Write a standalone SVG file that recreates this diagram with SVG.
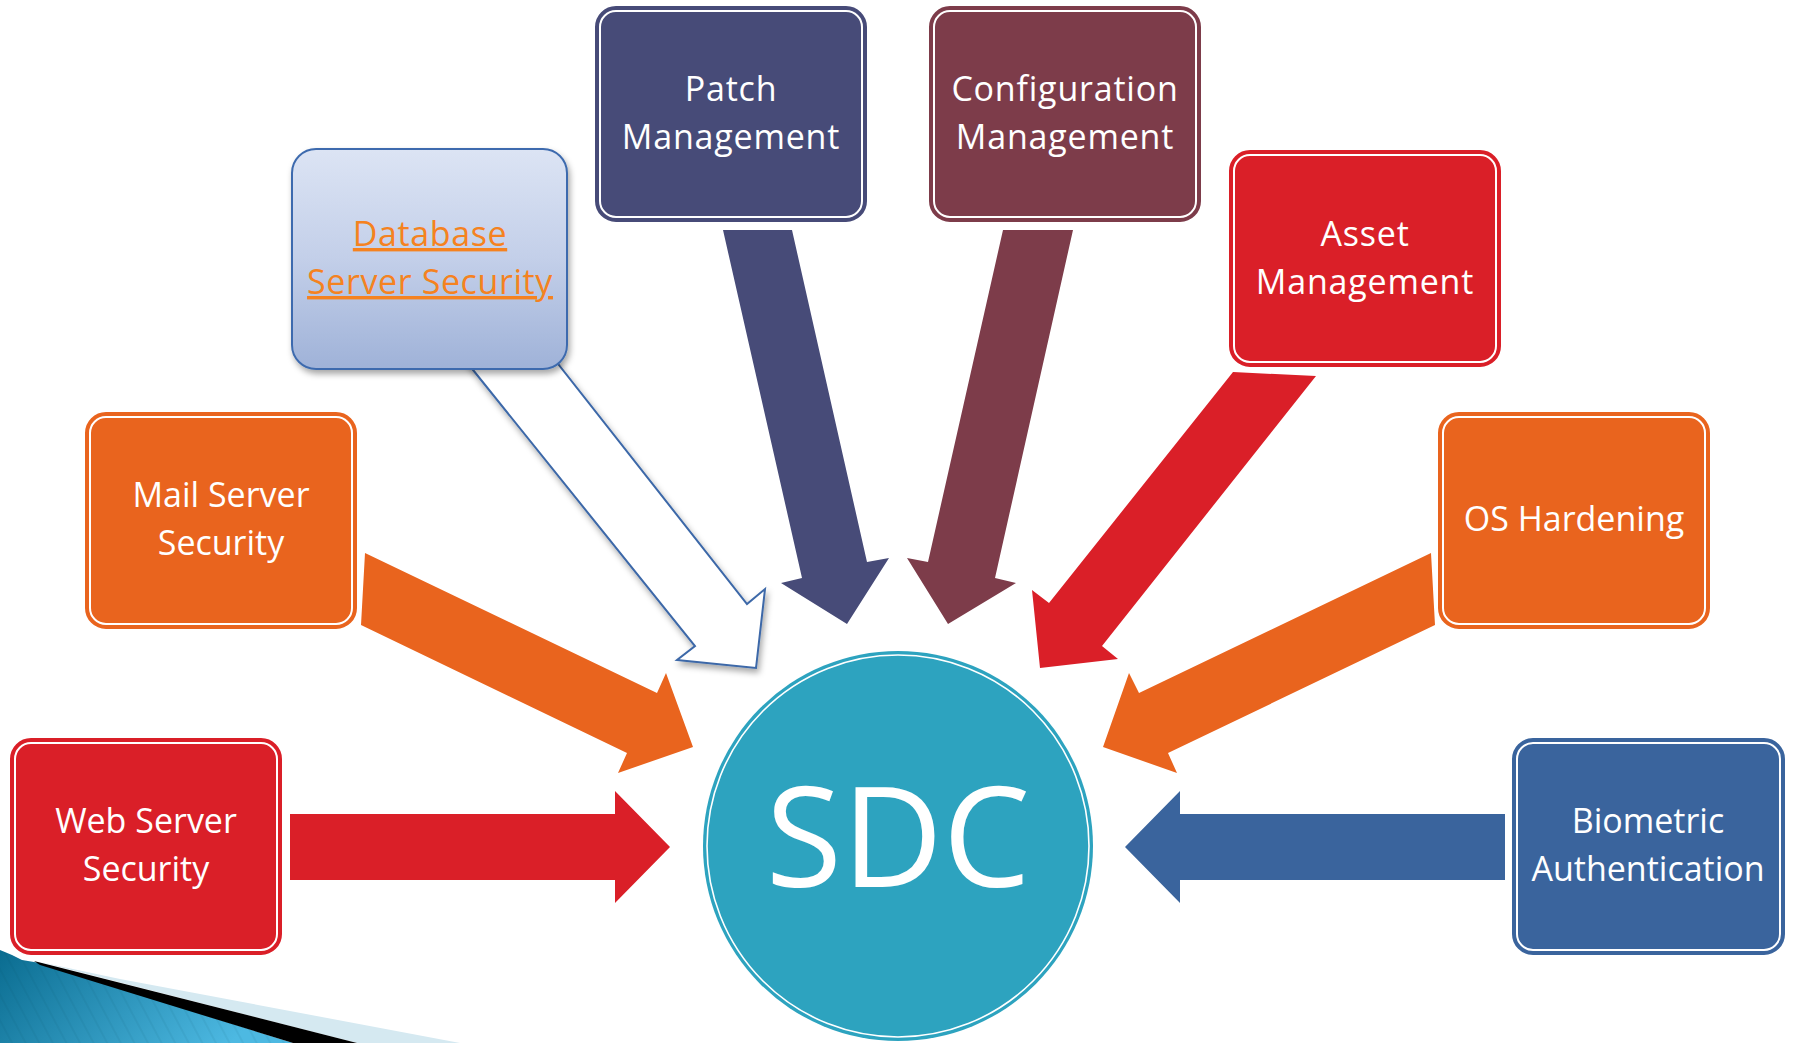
<svg xmlns="http://www.w3.org/2000/svg" width="1793" height="1043" viewBox="0 0 1793 1043">
<style>
.lbl{font-family:"Open Sans","Noto Sans","Liberation Sans",sans-serif;font-size:34px;fill:#ffffff;text-anchor:middle}
.sp{letter-spacing:0.8px}
.ring{fill:none;stroke:#ffffff;stroke-width:2}
</style>
<defs>
<linearGradient id="dbg" x1="0" y1="0" x2="0" y2="1">
<stop offset="0" stop-color="#DCE4F4"/>
<stop offset="0.5" stop-color="#C3CFE9"/>
<stop offset="1" stop-color="#9FB2D8"/>
</linearGradient>
<linearGradient id="blu" x1="0" y1="0" x2="1" y2="0.3">
<stop offset="0" stop-color="#0A6C90"/>
<stop offset="1" stop-color="#4DB9E2"/>
</linearGradient>
<pattern id="str" width="12" height="12" patternUnits="userSpaceOnUse" patternTransform="rotate(-28)">
<line x1="1" y1="0" x2="1" y2="12" stroke="#003A55" stroke-opacity="0.12" stroke-width="1"/>
</pattern>
<filter id="sh" x="-10%" y="-10%" width="130%" height="130%">
<feDropShadow dx="2" dy="4" stdDeviation="3" flood-color="#000" flood-opacity="0.35"/>
</filter>
</defs>
<rect width="1793" height="1043" fill="#ffffff"/>

<g id="decoration">
<polygon points="40,962 120,979 460,1043 357,1043" fill="#D5E9F1"/>
<polygon points="0,950 12,955 22,960 40,963 293,1043 0,1043" fill="url(#blu)"/>
<polygon points="0,950 12,955 22,960 40,963 293,1043 0,1043" fill="url(#str)"/>
<polygon points="34,961 357,1043 293,1043 40,965" fill="#000000"/>
</g>

<g id="connectors">
<polygon id="arrow-web" points="290,814 615,814 615,791 670,847 615,903 615,880 290,880" fill="#DA1F28"/>
<polygon id="arrow-mail" points="365,553 657,693 666,673 693,747 618,773 627,753 361,625" fill="#E9641E"/>
<polygon id="arrow-db" points="461,355 695,646 677,660 756,668 765,589 747,604 551,355" fill="#ffffff" stroke="#3C68A8" stroke-width="2" stroke-linejoin="miter" filter="url(#sh)"/>
<polygon id="arrow-patch" points="723,230 792,230 867,562 889,558 847,624 781,583 802,578" fill="#474B78"/>
<polygon id="arrow-config" points="1073,230 1003,230 928,562 907,558 948,624 1016,583 995,578" fill="#7D3C4A"/>
<polygon id="arrow-asset" points="1233,372 1316,376 1102,646 1118,659 1040,668 1032,590 1049,603" fill="#DA1F28"/>
<polygon id="arrow-os" points="1431,553 1139,693 1129,673 1103,747 1177,773 1168,753 1435,625" fill="#E9641E"/>
<polygon id="arrow-bio" points="1505,814 1180,814 1180,791 1125,847 1180,903 1180,880 1505,880" fill="#3A649D"/>
</g>

<g id="node-sdc">
<circle cx="898" cy="846" r="195" fill="#2DA3BF"/>
<circle cx="898" cy="846" r="191" fill="none" stroke="#ffffff" stroke-width="1.6"/>
<text x="898" y="887" font-family="'Open Sans','Noto Sans','Liberation Sans',sans-serif" font-size="139" fill="#ffffff" text-anchor="middle">SDC</text>
</g>

<g id="node-web">
<rect x="11" y="739" width="270" height="215" rx="20" fill="#DA1F28" stroke="#DA1F28" stroke-width="2"/>
<rect x="15" y="743" width="262" height="207" rx="16" class="ring"/>
<text class="lbl" x="146" y="833">Web Server</text>
<text class="lbl" x="146" y="881">Security</text>
</g>

<g id="node-mail">
<rect x="86" y="413" width="270" height="215" rx="20" fill="#E9641E" stroke="#E9641E" stroke-width="2"/>
<rect x="90" y="417" width="262" height="207" rx="16" class="ring"/>
<text class="lbl" x="221" y="507">Mail Server</text>
<text class="lbl" x="221" y="555">Security</text>
</g>

<g id="node-db">
<rect x="292" y="149" width="275" height="220" rx="24" fill="url(#dbg)" stroke="#3E6BAE" stroke-width="2" filter="url(#sh)"/>
<text class="lbl" x="430" y="246" style="fill:#F58220;letter-spacing:0.6px" text-decoration="underline">Database</text>
<text class="lbl" x="430" y="294" style="fill:#F58220;letter-spacing:0.6px" text-decoration="underline">Server Security</text>
</g>

<g id="node-patch">
<rect x="596" y="7" width="270" height="214" rx="20" fill="#474B78" stroke="#474B78" stroke-width="2"/>
<rect x="600" y="11" width="262" height="206" rx="16" class="ring"/>
<text class="lbl sp" x="731" y="101">Patch</text>
<text class="lbl sp" x="731" y="149">Management</text>
</g>

<g id="node-config">
<rect x="930" y="7" width="270" height="214" rx="20" fill="#7D3C4A" stroke="#7D3C4A" stroke-width="2"/>
<rect x="934" y="11" width="262" height="206" rx="16" class="ring"/>
<text class="lbl sp" x="1065" y="101">Configuration</text>
<text class="lbl sp" x="1065" y="149">Management</text>
</g>

<g id="node-asset">
<rect x="1230" y="151" width="270" height="215" rx="20" fill="#DA1F28" stroke="#DA1F28" stroke-width="2"/>
<rect x="1234" y="155" width="262" height="207" rx="16" class="ring"/>
<text class="lbl sp" x="1365" y="246">Asset</text>
<text class="lbl sp" x="1365" y="294">Management</text>
</g>

<g id="node-os">
<rect x="1439" y="413" width="270" height="215" rx="20" fill="#E9641E" stroke="#E9641E" stroke-width="2"/>
<rect x="1443" y="417" width="262" height="207" rx="16" class="ring"/>
<text class="lbl" x="1574" y="531">OS Hardening</text>
</g>

<g id="node-bio">
<rect x="1513" y="739" width="271" height="215" rx="20" fill="#3A649D" stroke="#3A649D" stroke-width="2"/>
<rect x="1517" y="743" width="263" height="207" rx="16" class="ring"/>
<text class="lbl" x="1648" y="833">Biometric</text>
<text class="lbl" x="1648" y="881">Authentication</text>
</g>
</svg>
